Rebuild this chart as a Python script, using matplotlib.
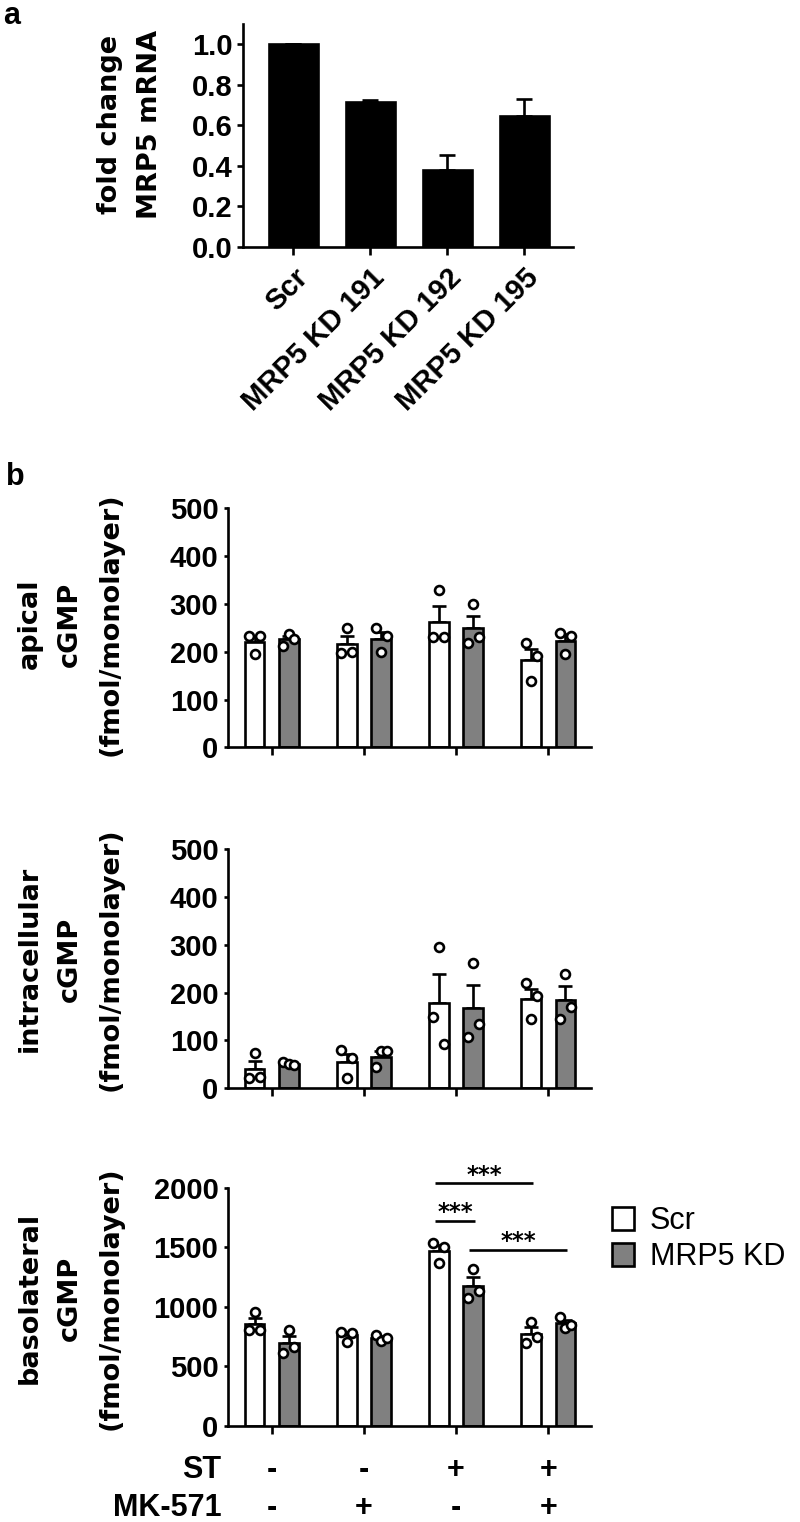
import numpy as np
import matplotlib
matplotlib.use('Agg')
import matplotlib.pyplot as plt
from matplotlib.patches import Patch

plt.rcParams['font.family'] = ['Liberation Sans', 'DejaVu Sans']

# ==== DATA ====

# panel a
kd_lines = ['Scr', 'MRP5 KD 191', 'MRP5 KD 192', 'MRP5 KD 195']
fold_change = [1.0, 0.714, 0.38, 0.645]
fold_sem = [0.0, 0.013, 0.071, 0.087]

# panel b : replicates per condition (ST-/MK-, ST-/MK+, ST+/MK-, ST+/MK+)
st_signs = ['-', '-', '+', '+']
mk_signs = ['-', '+', '-', '+']

apical_scr = [[233, 195, 233], [198, 249, 200], [230, 329, 230], [218, 139, 190]]
apical_kd = [[213, 238, 226], [249, 200, 233], [218, 300, 231], [240, 195, 233]]

intra_scr = [[21, 73, 24], [80, 22, 64], [150, 295, 93], [220, 145, 194]]
intra_kd = [[55, 50, 48], [45, 77, 77], [108, 263, 134], [145, 240, 169]]

baso_scr = [[806, 959, 806], [792, 708, 778], [1538, 1365, 1500], [699, 875, 749]]
baso_kd = [[610, 806, 666], [764, 716, 736], [1072, 1315, 1136], [917, 825, 848]]

# significance: (group a, series a, group b, series b, height)
baso_sig = [(2, 0, 3, 0, 2035), (2, 0, 2, 1, 1720), (2, 1, 3, 1, 1477)]

# ==== STYLE ====
LW = 1.9
GREY = '#808080'
OFF = 0.186
BW = 0.215
JIT = [-0.06, 0.0, 0.06]
YLAB = dict(family='DejaVu Sans', fontweight='bold', fontsize=19.5, linespacing=1.72)

fig = plt.figure(figsize=(8, 15.22), dpi=100)

# ==== PANEL A ====
axa = fig.add_axes([0.3034, 0.8379, 0.4133, 0.1463])
xa = np.arange(len(kd_lines))
axa.bar(xa, fold_change, width=0.64, color='black', edgecolor='black', linewidth=LW)
axa.errorbar(xa, fold_change, yerr=[np.zeros(len(xa)), fold_sem], fmt='none',
             ecolor='black', elinewidth=LW, capsize=6, capthick=LW)
axa.set_xlim(-0.657, 3.636)
axa.set_ylim(0, 1.1)
axa.set_yticks([0, 0.2, 0.4, 0.6, 0.8, 1.0])
axa.set_yticklabels(['0.0', '0.2', '0.4', '0.6', '0.8', '1.0'],
                    fontsize=21, fontweight='bold')
axa.set_xticks(xa)
axa.set_xticklabels(kd_lines, rotation=45, ha='right', va='top', rotation_mode='anchor',
                    fontsize=21, fontweight='bold')
axa.set_ylabel('fold change\nMRP5 mRNA', **YLAB)
axa.yaxis.set_label_coords(-0.240, 0.551)
for s in ['top', 'right']:
    axa.spines[s].set_visible(False)
for s in ['left', 'bottom']:
    axa.spines[s].set_linewidth(LW)
axa.tick_params(axis='y', width=LW, length=4.3, pad=2.7)
axa.tick_params(axis='x', width=LW, length=5.8, pad=6)
fig.text(0.004, 0.9995, 'a', fontsize=22, fontweight='bold', va='top', ha='left')
fig.text(0.008, 0.6813, 'b', fontsize=22, fontweight='bold', va='baseline', ha='left')


# ==== PANEL B ====
def grouped(ax, scr, kd, ymax, step, ylabel, ly):
    xg = np.arange(len(scr))
    for k, (vals, fc) in enumerate([(scr, 'white'), (kd, GREY)]):
        xs = xg - OFF if k == 0 else xg + OFF
        means = [np.mean(v) for v in vals]
        sems = [np.std(v, ddof=1) / np.sqrt(len(v)) for v in vals]
        ax.bar(xs, means, width=BW, color=fc, edgecolor='black', linewidth=LW, zorder=2)
        ax.errorbar(xs, means, yerr=[np.zeros(len(xs)), sems], fmt='none', ecolor='black',
                    elinewidth=LW, capsize=4.8, capthick=LW, zorder=1)
        for i, v in enumerate(vals):
            ax.plot(xs[i] + np.array(JIT), v, 'o', ms=6.4, mfc='white', mec='black',
                    mew=1.9, zorder=3, clip_on=False)
    ax.set_xlim(-0.4685, 3.46)
    ax.set_ylim(0, ymax)
    ticks = np.arange(0, ymax + 1, step)
    ax.set_yticks(ticks)
    ax.set_yticklabels([str(int(t)) for t in ticks], fontweight='bold', fontsize=21)
    ax.set_xticks(xg)
    ax.set_xticklabels([])
    ax.set_ylabel(ylabel, **YLAB)
    ax.yaxis.set_label_coords(-0.2897, ly)
    for s in ['top', 'right']:
        ax.spines[s].set_visible(False)
    for s in ['left', 'bottom']:
        ax.spines[s].set_linewidth(LW)
    ax.tick_params(axis='y', width=LW, length=3.2, pad=4)
    ax.tick_params(axis='x', width=LW, length=5.5)


ax1 = fig.add_axes([0.2856, 0.5090, 0.4528, 0.1570])
grouped(ax1, apical_scr, apical_kd, 500, 100, 'apical\ncGMP\n(fmol/monolayer)', 0.515)

ax2 = fig.add_axes([0.2856, 0.2850, 0.4528, 0.1570])
grouped(ax2, intra_scr, intra_kd, 500, 100, 'intracellular\ncGMP\n(fmol/monolayer)', 0.54)

ax3 = fig.add_axes([0.2856, 0.0631, 0.4528, 0.1566])
grouped(ax3, baso_scr, baso_kd, 2000, 500, 'basolateral\ncGMP\n(fmol/monolayer)', 0.537)

for ga, sa, gb, sb, h in baso_sig:
    x0 = ga + (OFF if sa else -OFF) - 0.045
    x1 = gb + (OFF if sb else -OFF) + 0.02
    ax3.plot([x0, x1], [h, h], color='black', lw=LW, clip_on=False, solid_capstyle='butt')
    ax3.text((x0 + x1) / 2, h + 15, '***', ha='center', va='baseline', fontsize=16.5,
             family='DejaVu Sans', fontweight='bold', clip_on=False)

trans = ax3.get_xaxis_transform()
ax3.text(-0.542, -0.185, 'ST', transform=trans, ha='right', va='center',
         fontweight='bold', fontsize=22)
ax3.text(-0.542, -0.345, 'MK-571', transform=trans, ha='right', va='center',
         fontweight='bold', fontsize=22)
for i in range(len(st_signs)):
    ax3.text(i, -0.185, st_signs[i], transform=trans, ha='center', va='center',
             fontweight='bold', fontsize=22)
    ax3.text(i, -0.345, mk_signs[i], transform=trans, ha='center', va='center',
             fontweight='bold', fontsize=22)

legend_elements = [Patch(facecolor='white', edgecolor='black', linewidth=LW, label='Scr'),
                   Patch(facecolor=GREY, edgecolor='black', linewidth=LW, label='MRP5 KD')]
fig.legend(handles=legend_elements, loc='upper left', bbox_to_anchor=(0.7656, 0.2076),
           frameon=False, prop={'size': 22}, handlelength=0.72, handleheight=0.75,
           handletextpad=0.5, labelspacing=0.2, borderpad=0, borderaxespad=0)

fig.savefig('out.png', dpi=100)
